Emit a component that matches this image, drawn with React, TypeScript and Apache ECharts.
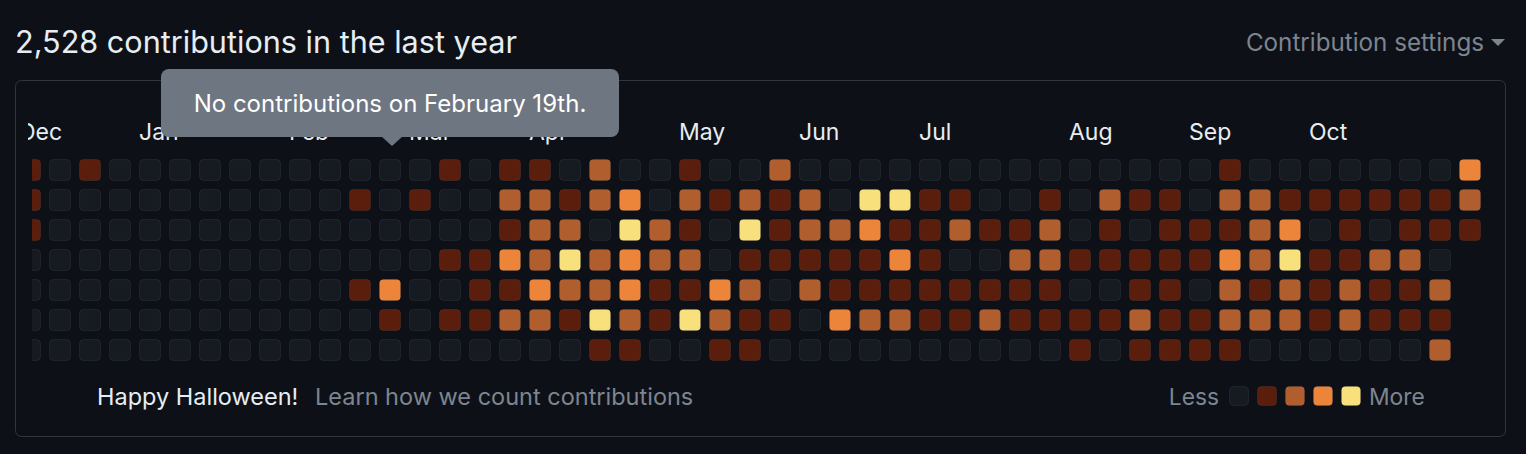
import React, { useEffect, useRef } from "react";
import * as echarts from "echarts";

const FONT = "Inter";
const titleText = "2,528 contributions in the last year";
const settingsText = "Contribution settings";
const tooltipText = "No contributions on February 19th.";
const footerLeft = "Happy Halloween!";
const footerLink = "Learn how we count contributions";
const lessText = "Less";
const moreText = "More";

const monthNames = ["Dec", "Jan", "Feb", "Mar", "Apr", "May", "Jun", "Jul", "Aug", "Sep", "Oct"];
const monthStartWeeks = [0, 4, 9, 13, 17, 22, 26, 30, 35, 39, 43];
const weekCount = 49;
const dayNames = ["Sun", "Mon", "Tue", "Wed", "Thu", "Fri", "Sat"];
const levelColors = ["#161b22", "#5c1e0c", "#b15e2f", "#ec843a", "#f8e07c"];

// contribution level (0-4) per week column, one array per weekday; null = no day
const sunLevels = [1,0,1,0,0,0,0,0,0,0,0,0,0,0,1,0,1,1,0,2,0,0,1,0,0,2,0,0,0,0,0,0,0,0,0,0,0,0,0,0,1,0,0,0,0,0,0,0,3];
const monLevels = [1,0,0,0,0,0,0,0,0,0,0,1,0,1,0,0,2,2,1,2,3,0,2,1,2,1,2,0,4,4,1,1,0,0,1,0,2,1,1,0,2,2,1,1,1,1,1,1,2];
const tueLevels = [1,0,0,0,0,0,0,0,0,0,0,0,0,0,0,0,1,2,2,0,4,2,1,0,4,1,2,2,3,1,1,2,1,1,2,0,1,0,1,1,1,2,3,0,1,0,1,1,1];
const wedLevels = [0,0,0,0,0,0,0,0,0,0,0,0,0,0,1,1,3,2,4,2,3,2,2,0,1,1,1,1,1,3,1,0,0,2,2,1,1,1,1,1,3,2,4,1,1,2,2,0,null];
const thuLevels = [0,0,0,0,0,0,0,0,0,0,0,1,3,0,0,1,1,3,2,2,3,1,1,3,2,0,2,1,1,1,1,1,1,1,1,0,0,1,1,0,2,1,2,1,2,1,1,2,null];
const friLevels = [0,0,0,0,0,0,0,0,0,0,0,0,1,0,1,1,2,2,1,4,2,1,4,2,1,1,0,3,2,2,1,1,2,1,1,1,1,2,1,1,2,2,2,1,2,1,1,1,null];
const satLevels = [0,0,0,0,0,0,0,0,0,0,0,0,0,0,0,0,0,0,0,1,1,0,0,1,1,0,0,0,0,0,0,0,0,0,0,1,0,1,1,1,1,0,0,0,0,0,0,2,null];
const weekdayRows = [sunLevels, monLevels, tueLevels, wedLevels, thuLevels, friLevels, satLevels];

export default function App() {
  const ref = useRef<HTMLDivElement>(null);

  useEffect(() => {
    const chart = echarts.init(ref.current!, null, { renderer: "svg" });
    const data: number[][] = [];
    weekdayRows.forEach((row, r) =>
      row.forEach((lv, c) => {
        if (lv !== null) data.push([c, r, lv as number]);
      })
    );
    const xLabels = Array.from({ length: weekCount }, (_, i) => {
      const k = monthStartWeeks.indexOf(i);
      return k >= 0 ? monthNames[k] : "";
    });

    const textStyle = (extra: any) => ({ fontFamily: FONT, fontSize: 23.5, ...extra });

    const legendRects = levelColors.map((c, i) => ({
      type: "rect",
      shape: { x: 1229.5 + i * 28, y: 386.5, width: 19, height: 19, r: 4 },
      style: { fill: c, stroke: "rgba(255,255,255,0.06)", lineWidth: 1 },
    }));

    chart.setOption({
      animation: false,
      backgroundColor: "#0d1117",
      grid: { left: 19, top: 159, width: 1440, height: 180 },
      xAxis: {
        type: "category",
        data: xLabels,
        position: "top",
        boundaryGap: false,
        axisLine: { show: false },
        axisTick: { show: false },
        splitLine: { show: false },
        axisLabel: {
          interval: 0,
          align: "left",
          color: "#e6edf3",
          fontSize: 23,
          fontFamily: FONT,
          margin: 16,
        },
      },
      yAxis: {
        type: "category",
        data: dayNames,
        inverse: true,
        boundaryGap: false,
        show: false,
      },
      series: [
        {
          type: "custom",
          clip: false,
          data,
          encode: { x: 0, y: 1 },
          renderItem: (params: any, api: any) => {
            const p = api.coord([api.value(0), api.value(1)]);
            const band = api.size([1, 1]);
            const s = band[0] - 8;
            const lv = api.value(2);
            return {
              type: "rect",
              shape: { x: p[0] + 0.5, y: p[1] + 0.5, width: s - 1, height: s - 1, r: 4 },
              style: { fill: levelColors[lv], stroke: "rgba(255,255,255,0.06)", lineWidth: 1 },
            };
          },
        },
      ],
      graphic: [
        {
          type: "rect",
          z: 50,
          shape: { x: 16, y: 108, width: 12, height: 44 },
          style: { fill: "#0d1117" },
        },
        {
          type: "rect",
          z: 50,
          shape: { x: 16, y: 152, width: 16, height: 218 },
          style: { fill: "#0d1117" },
        },
        {
          type: "rect",
          z: 51,
          shape: { x: 15.5, y: 80.5, width: 1490, height: 356, r: 6 },
          style: { fill: "none", stroke: "#30363d", lineWidth: 1 },
        },
        {
          type: "text",
          x: 15,
          y: 41,
          style: textStyle({ text: titleText, fontSize: 30.6, fill: "#e6edf3", verticalAlign: "middle", align: "left" }),
        },
        {
          type: "text",
          x: 1484,
          y: 42,
          style: textStyle({ text: settingsText, fontSize: 24.2, fill: "#7d8590", verticalAlign: "middle", align: "right" }),
        },
        {
          type: "polygon",
          shape: { points: [[1491, 39], [1505, 39], [1498, 46]] },
          style: { fill: "#7d8590" },
        },
        {
          type: "rect",
          z: 100,
          shape: { x: 161, y: 69, width: 458, height: 68, r: 8 },
          style: { fill: "#6e7681" },
        },
        {
          type: "polygon",
          z: 100,
          shape: { points: [[381, 136], [403, 136], [392, 146]] },
          style: { fill: "#6e7681" },
        },
        {
          type: "text",
          z: 101,
          x: 390,
          y: 103,
          style: textStyle({ text: tooltipText, fontSize: 24, fill: "#ffffff", verticalAlign: "middle", align: "center" }),
        },
        {
          type: "text",
          x: 97,
          y: 396,
          style: textStyle({ text: footerLeft, fill: "#e6edf3", verticalAlign: "middle", align: "left" }),
        },
        {
          type: "text",
          x: 315,
          y: 396,
          style: textStyle({ text: footerLink, fill: "#7d8590", verticalAlign: "middle", align: "left" }),
        },
        {
          type: "text",
          x: 1219,
          y: 396,
          style: textStyle({ text: lessText, fontSize: 22.8, fill: "#7d8590", verticalAlign: "middle", align: "right" }),
        },
        ...legendRects,
        {
          type: "text",
          x: 1369,
          y: 396,
          style: textStyle({ text: moreText, fontSize: 22.8, fill: "#7d8590", verticalAlign: "middle", align: "left" }),
        },
      ],
    });
    return () => chart.dispose();
  }, []);

  return <div ref={ref} style={{ position: "absolute", left: 0, top: 0, width: 1526, height: 454 }} />;
}
